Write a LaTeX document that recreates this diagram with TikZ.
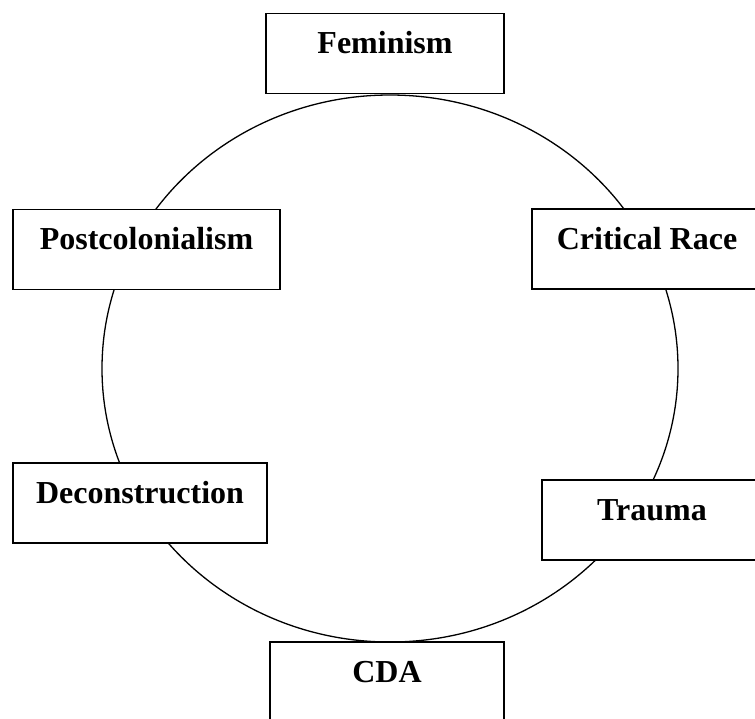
\documentclass[tikz,border=0pt]{standalone}
\usepackage{fontspec}
\setmainfont{Liberation Serif}
\usetikzlibrary{positioning}

\begin{document}
\begin{tikzpicture}[
    x=1pt, y=1pt,
    box/.style={draw, line width=1.4pt, fill=white, inner sep=0pt, minimum height=80pt,
        text height=40pt, text depth=40pt, align=center, font=\fontsize{32}{38}\selectfont\bfseries},
    ring/.style={draw, line width=1.3pt}
]
\useasboundingbox (0,0) rectangle (755,-718);
\coordinate (hub) at (390,-368.5);
\draw[ring] (hub) ellipse [x radius=288, y radius=273.5];
\node[box, minimum width=238pt] (feminism) at (385,-53.5) {Feminism};
\node[box, minimum width=267pt] (postcol) at (146.5,-249.5) {Postcolonialism};
\node[box, minimum width=230pt] (race) at (647,-249) {Critical Race};
\node[box, minimum width=254pt] (decon) at (140,-503) {Deconstruction};
\node[box, minimum width=220pt] (trauma) at (652,-520) {Trauma};
\node[box, minimum width=234pt] (cda) at (387,-682) {CDA};
\end{tikzpicture}
\end{document}
